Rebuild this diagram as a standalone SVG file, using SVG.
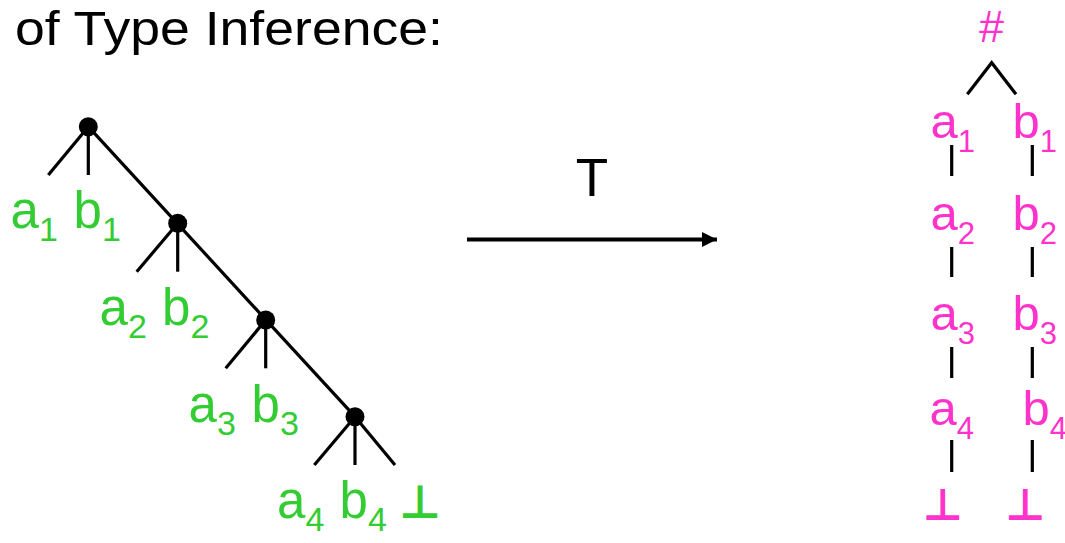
<svg xmlns="http://www.w3.org/2000/svg" width="1065" height="543" viewBox="0 0 1065 543">
<defs>
<style>
.t{font-family:"Liberation Sans",Arial,sans-serif}
.g{fill:#33cc33;font-size:51px}
.m{fill:#ff33cc;font-size:49px}
.gs{font-size:34px}
.ms{font-size:31px}
.ln{stroke:#000;stroke-width:3.2;fill:none}
.bot{font-family:"DejaVu Sans",sans-serif;font-weight:bold}
</style>
<marker id="ah" viewBox="0 0 15 15" refX="15" refY="7.5" markerWidth="15" markerHeight="15" markerUnits="userSpaceOnUse" orient="auto"><path d="M0,0 L15,7.5 L0,15 z" fill="#000"/></marker>
</defs>
<rect width="1065" height="543" fill="#fff"/>
<g id="title"><text class="t" x="15" y="44.5" font-size="49" textLength="428" lengthAdjust="spacingAndGlyphs">of Type Inference:</text></g>

<g id="connectors">
<line class="ln" x1="88.3" y1="126.7" x2="355" y2="416.7"/>
<line class="ln" x1="88.3" y1="126.7" x2="48.3" y2="175"/>
<line class="ln" x1="88.3" y1="126.7" x2="88.3" y2="175"/>
<line class="ln" x1="177.7" y1="223.3" x2="136.7" y2="271.7"/>
<line class="ln" x1="177.7" y1="223.3" x2="177.7" y2="271.7"/>
<line class="ln" x1="265.7" y1="320" x2="225.7" y2="368.3"/>
<line class="ln" x1="265.7" y1="320" x2="265.7" y2="368.3"/>
<line class="ln" x1="355" y1="416.7" x2="314.3" y2="465"/>
<line class="ln" x1="355" y1="416.7" x2="355" y2="465"/>
<line class="ln" x1="355" y1="416.7" x2="395" y2="465"/>
<line x1="467" y1="239.5" x2="717" y2="239.5" stroke="#000" stroke-width="4" marker-end="url(#ah)"/>
<polyline class="ln" points="967.3,94.3 991.7,62.7 1016,94.3"/>
<g class="ln">
<line x1="951.7" y1="145" x2="951.7" y2="176"/>
<line x1="951.7" y1="247" x2="951.7" y2="277"/>
<line x1="951.7" y1="347" x2="951.7" y2="378"/>
<line x1="951.7" y1="440" x2="951.7" y2="472"/>
<line x1="1032.3" y1="145" x2="1032.3" y2="176"/>
<line x1="1032.3" y1="247" x2="1032.3" y2="277"/>
<line x1="1032.3" y1="347" x2="1032.3" y2="378"/>
<line x1="1032.3" y1="440" x2="1032.3" y2="472"/>
</g>
</g>

<g id="n1"><circle cx="88.3" cy="126.7" r="9.5" fill="#000"/></g>
<g id="n2"><circle cx="177.7" cy="223.3" r="9.5" fill="#000"/></g>
<g id="n3"><circle cx="265.7" cy="320" r="9.5" fill="#000"/></g>
<g id="n4"><circle cx="355" cy="416.7" r="9.5" fill="#000"/></g>

<g id="left-labels" class="t g">
<text x="10.5" y="228">a<tspan class="gs" dy="13">1</tspan></text>
<text x="73.5" y="228">b<tspan class="gs" dy="13">1</tspan></text>
<text x="99.5" y="325">a<tspan class="gs" dy="13">2</tspan></text>
<text x="162" y="325">b<tspan class="gs" dy="13">2</tspan></text>
<text x="188.5" y="421.7">a<tspan class="gs" dy="13">3</tspan></text>
<text x="251.5" y="421.7">b<tspan class="gs" dy="13">3</tspan></text>
<text x="277" y="518.3">a<tspan class="gs" dy="13">4</tspan></text>
<text x="339.5" y="518.3">b<tspan class="gs" dy="13">4</tspan></text>
<text class="bot" x="420" y="518.3" text-anchor="middle" font-size="46">⊥</text>
</g>

<g id="T-label"><text class="t" x="592" y="196" font-size="53" text-anchor="middle">T</text></g>

<g id="right-labels" class="t m">
<text x="991.5" y="42" font-size="45" text-anchor="middle">#</text>
<text x="930.5" y="137.7">a<tspan class="ms" dy="14">1</tspan></text>
<text x="1012.5" y="137.7">b<tspan class="ms" dy="14">1</tspan></text>
<text x="930.5" y="230">a<tspan class="ms" dy="14">2</tspan></text>
<text x="1012.5" y="230">b<tspan class="ms" dy="14">2</tspan></text>
<text x="930.5" y="330">a<tspan class="ms" dy="14">3</tspan></text>
<text x="1012.5" y="330">b<tspan class="ms" dy="14">3</tspan></text>
<text x="929.5" y="425">a<tspan class="ms" dy="14">4</tspan></text>
<text x="1022.5" y="425">b<tspan class="ms" dy="14">4</tspan></text>
<text class="bot" x="942.7" y="520" text-anchor="middle" font-size="44">⊥</text>
<text class="bot" x="1025" y="520" text-anchor="middle" font-size="44">⊥</text>
</g>
</svg>
